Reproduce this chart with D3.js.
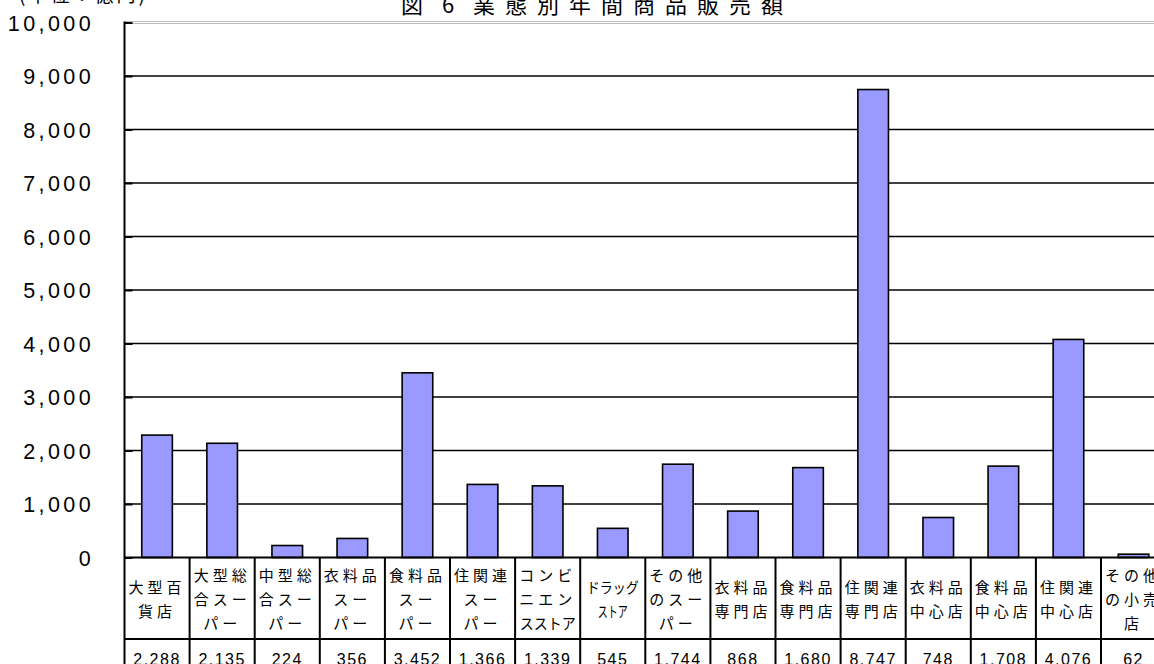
<!DOCTYPE html>
<html><head><meta charset="utf-8">
<script src="https://cdn.jsdelivr.net/npm/d3@7"></script>
<style>html,body{margin:0;padding:0;background:#fff;overflow:hidden}</style>
</head><body><svg id="c" width="1154" height="664"></svg>
<script>
// ---- data ----
const title = "図 6 業態別年間商品販売額";
const unitLabel = "(単位：億円)";
const categories = [
  ["大型百","貨店"],
  ["大型総","合スー","パー"],
  ["中型総","合スー","パー"],
  ["衣料品","スー","パー"],
  ["食料品","スー","パー"],
  ["住関連","スー","パー"],
  ["コンビ","ニエン","スストア"],
  ["ドラッグ","ストア"],
  ["その他","のスー","パー"],
  ["衣料品","専門店"],
  ["食料品","専門店"],
  ["住関連","専門店"],
  ["衣料品","中心店"],
  ["食料品","中心店"],
  ["住関連","中心店"],
  ["その他","の小売","店"]
];
const values = [2288, 2135, 224, 356, 3452, 1366, 1339, 545, 1744, 868, 1680, 8747, 748, 1708, 4076, 62];
const yTicks = [0, 1000, 2000, 3000, 4000, 5000, 6000, 7000, 8000, 9000, 10000];

// ---- layout ----
const svg = d3.select("#c");
const X0 = 124.5, STEP = 65.1, N = categories.length;
const Y0 = 557.5, Y1 = 22.5;
const ROW1 = 639, BOTTOM = 700;
const CJK = "'Noto Sans CJK JP','Noto Sans',sans-serif";
const LAT = "'Liberation Sans',Arial,sans-serif";

const x = d3.scaleBand().domain(d3.range(N)).range([X0, X0 + STEP * N]).padding(0);
const y = d3.scaleLinear().domain([0, 10000]).range([Y0, Y1]);
const fmt = d3.format(",");

// title & unit
svg.append("text").attr("x", 401).attr("y", 12.5)
  .attr("font-family", CJK).attr("font-size", 22)
  .attr("letter-spacing", 10).attr("word-spacing", -6)
  .attr("fill", "#000").text(title);
svg.append("text").attr("x", 19).attr("y", 2)
  .attr("font-family", CJK).attr("font-size", 19)
  .attr("letter-spacing", 3).attr("fill", "#000").text(unitLabel);

// gridlines
const gridTicks = yTicks.filter(t => t > 0 && t < 10000);
svg.append("g").selectAll("line").data(gridTicks).join("line")
  .attr("x1", X0).attr("x2", 1200)
  .attr("y1", d => y(d)).attr("y2", d => y(d))
  .attr("stroke", "#000").attr("stroke-width", 1.4);
// top (10000) line, rendered light
[-1, 1].forEach(o => {
  svg.append("line").attr("x1", X0).attr("x2", 1200)
    .attr("y1", y(10000) + o).attr("y2", y(10000) + o)
    .attr("stroke", "#bbb").attr("stroke-width", 1);
});

// bars
const bw = x.bandwidth() * 0.47;
svg.append("g").selectAll("rect").data(values).join("rect")
  .attr("x", (d, i) => x(i) + (x.bandwidth() - bw) / 2)
  .attr("width", bw)
  .attr("y", d => y(d))
  .attr("height", d => y(0) - y(d))
  .attr("fill", "#9999ff").attr("stroke", "#000").attr("stroke-width", 1.6);

// y axis labels + inner ticks
const yAxis = d3.axisLeft(y).tickValues(yTicks).tickFormat(fmt)
  .tickSizeInner(-8).tickSizeOuter(0).tickPadding(X0 - 94);
const ga = svg.append("g").attr("transform", `translate(${X0},0)`).call(yAxis);
ga.select(".domain").remove();
ga.selectAll(".tick line").attr("stroke", "#000").attr("stroke-width", 2);
ga.selectAll(".tick text")
  .attr("font-family", LAT).attr("font-size", 21.5).attr("letter-spacing", 3.4)
  .attr("fill", "#000").attr("dy", "0.37em");

// axis line (continues into table)
svg.append("line").attr("x1", X0).attr("x2", X0).attr("y1", Y1 - 1).attr("y2", BOTTOM)
  .attr("stroke", "#000").attr("stroke-width", 2);

// data table
const tbl = svg.append("g");
[Y0, ROW1].forEach(yy => {
  tbl.append("line").attr("x1", X0).attr("x2", 1200).attr("y1", yy).attr("y2", yy)
    .attr("stroke", "#000").attr("stroke-width", 2);
});
tbl.selectAll("line.v").data(d3.range(1, N + 1)).join("line").attr("class", "v")
  .attr("x1", i => x(i) === undefined ? X0 + STEP * i : x(i))
  .attr("x2", i => x(i) === undefined ? X0 + STEP * i : x(i))
  .attr("y1", Y0).attr("y2", BOTTOM)
  .attr("stroke", "#000").attr("stroke-width", 2);

// category labels
const fitWidth = { "スストア": 56, "ドラッグ": 52, "ストア": 30 };
const LINE = 24, MID = 599;
categories.forEach((lines, i) => {
  const cx = x(i) + x.bandwidth() / 2;
  lines.forEach((ln, j) => {
    const cy = MID + (j - (lines.length - 1) / 2) * LINE;
    const t = tbl.append("text").attr("x", cx).attr("y", cy + 5.5)
      .attr("text-anchor", "middle").attr("font-family", CJK).attr("font-size", 15)
      .attr("fill", "#000").text(ln);
    if (fitWidth[ln]) {
      t.attr("textLength", fitWidth[ln]).attr("lengthAdjust", "spacingAndGlyphs");
    } else {
      t.attr("letter-spacing", 4);
    }
  });
});

// value row
tbl.selectAll("text.val").data(values).join("text").attr("class", "val")
  .attr("x", (d, i) => x(i) + x.bandwidth() / 2)
  .attr("y", 665)
  .attr("text-anchor", "middle").attr("font-family", LAT).attr("font-size", 16)
  .attr("letter-spacing", 1.5).attr("fill", "#000")
  .text(d => fmt(d));
</script></body></html>
